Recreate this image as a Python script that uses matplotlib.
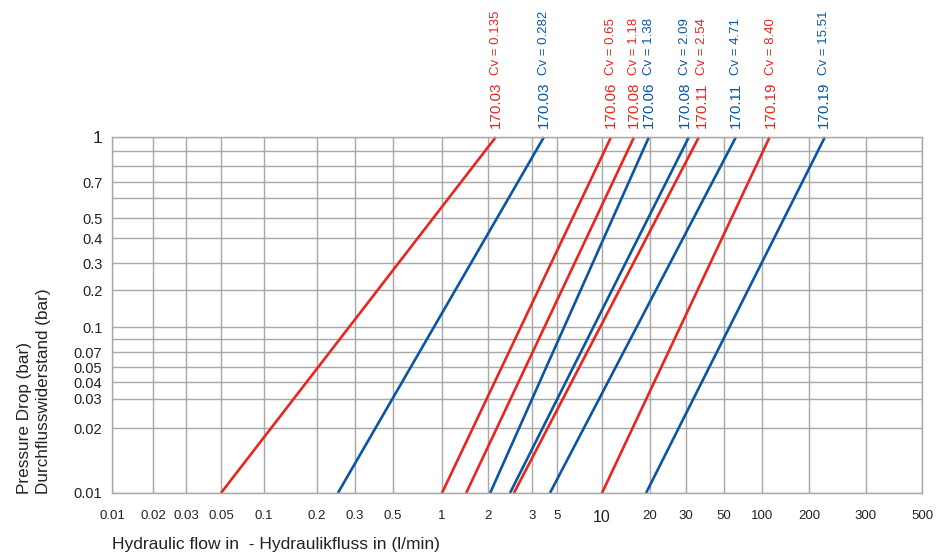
import numpy as np
import matplotlib
matplotlib.use("Agg")
import matplotlib.pyplot as plt

plt.rcParams['font.family'] = ['Liberation Sans', 'DejaVu Sans']

# axis graduations of the printed chart (not a true log scale)
x_ticks = [0.01, 0.02, 0.03, 0.05, 0.1, 0.2, 0.3, 0.5, 1, 2, 3, 5, 10, 20, 30, 50, 100, 200, 300, 500]
x_tick_labels = ['0.01', '0.02', '0.03', '0.05', '0.1', '0.2', '0.3', '0.5', '1', '2', '3', '5',
                 '10', '20', '30', '50', '100', '200', '300', '500']
x_tick_pos = [112, 153, 186, 221, 264, 317, 355, 393, 442, 488, 532, 557, 602, 650, 686, 724, 762, 809, 866, 922]

y_ticks = [0.01, 0.02, 0.03, 0.04, 0.05, 0.07, 0.08, 0.1, 0.2, 0.3, 0.4, 0.5, 0.6, 0.7, 0.8, 0.9, 1]
y_tick_labels = ['0.01', '0.02', '0.03', '0.04', '0.05', '0.07', '', '0.1', '0.2', '0.3', '0.4', '0.5',
                 '', '0.7', '', '', '1']
y_tick_pos = [-493, -428, -399, -382, -367, -352, -339, -327, -290, -263, -238, -218, -198, -182, -166, -151, -137]

# valve curves: flow (l/min) at 0.01 bar and at 1 bar
models = ['170.03', '170.03', '170.06', '170.08', '170.06', '170.08', '170.11', '170.11', '170.19', '170.19']
cv_text = ['0.135', '0.282', '0.65', '1.18', '1.38', '2.09', '2.54', '4.71', '8.40', '15.51']
flow_low = [0.05, 0.25, 1.0, 1.44, 2.04, 2.45, 2.54, 4.33, 10.0, 18.9]
flow_high = [2.15, 3.83, 11.4, 15.9, 19.7, 31.2, 35.7, 62.2, 112, 224]
series_color = ['red', 'blue', 'red', 'red', 'blue', 'blue', 'red', 'blue', 'red', 'blue']
# sideways nudge of the crowded labels, in points
label_dx = [0, 0, 0, 0, 0, -3, 2, 0, 1, -1]

RED = '#e8251f'
BLUE = '#0b56a4'
GRID = '#a8a8a8'
TXT = '#222222'


def make_scale(vals, pos):
    lv = np.log10(vals)

    def fwd(v):
        v = np.clip(np.asarray(v, dtype=float), 1e-12, None)
        return np.interp(np.log10(v), lv, pos)

    def inv(p):
        return 10 ** np.interp(p, pos, lv)
    return fwd, inv


fig = plt.figure(figsize=(9.49, 5.59), dpi=100)
ax = fig.add_axes([112 / 949, 1 - 493 / 559, 810 / 949, 356 / 559])

ax.set_xscale('function', functions=make_scale(x_ticks, x_tick_pos))
ax.set_yscale('function', functions=make_scale(y_ticks, y_tick_pos))
ax.set_xlim(0.01, 500)
ax.set_ylim(0.01, 1)

ax.set_xticks(x_ticks)
ax.set_xticklabels(x_tick_labels)
ax.set_yticks(y_ticks)
ax.set_yticklabels(y_tick_labels)
ax.minorticks_off()
ax.tick_params(length=0, labelcolor=TXT)
ax.tick_params(axis='x', pad=12, labelsize=9.5)
ax.tick_params(axis='y', pad=7, labelsize=10.5)
for lab in ax.get_xticklabels():
    if lab.get_text() == '10':
        lab.set_fontsize(11.5)
for lab in ax.get_yticklabels():
    if lab.get_text() == '1':
        lab.set_fontsize(12.5)

ax.grid(True, color=GRID, linewidth=1.0)
ax.set_axisbelow(True)
for sp in ax.spines.values():
    sp.set_color(GRID)
    sp.set_linewidth(1.0)

for i in range(len(models)):
    c = RED if series_color[i] == 'red' else BLUE
    ax.plot([flow_low[i], flow_high[i]], [0.01, 1], color=c, linewidth=1.9,
            solid_capstyle='butt', clip_on=False)
    ax.annotate(models[i], xy=(flow_high[i], 1), xytext=(label_dx[i], 6.5),
                textcoords='offset points', rotation=90, ha='center', va='bottom',
                fontsize=11, color=c, annotation_clip=False)
    ax.annotate('Cv = ' + cv_text[i], xy=(flow_high[i], 1), xytext=(label_dx[i], 44.5),
                textcoords='offset points', rotation=90, ha='center', va='bottom',
                fontsize=9.5, color=c, annotation_clip=False)

fig.text(34 / 949, 1 - 494 / 559, 'Pressure Drop (bar)\nDurchflusswiderstand (bar)',
         rotation=90, ha='center', va='bottom', multialignment='left',
         fontsize=12.3, color=TXT, linespacing=1.4)
fig.text(112 / 949, 1 - 545 / 559, 'Hydraulic flow in  - Hydraulikfluss in (l/min)',
         ha='left', va='center', fontsize=12.5, color=TXT)

fig.savefig('out.png', dpi=100)
